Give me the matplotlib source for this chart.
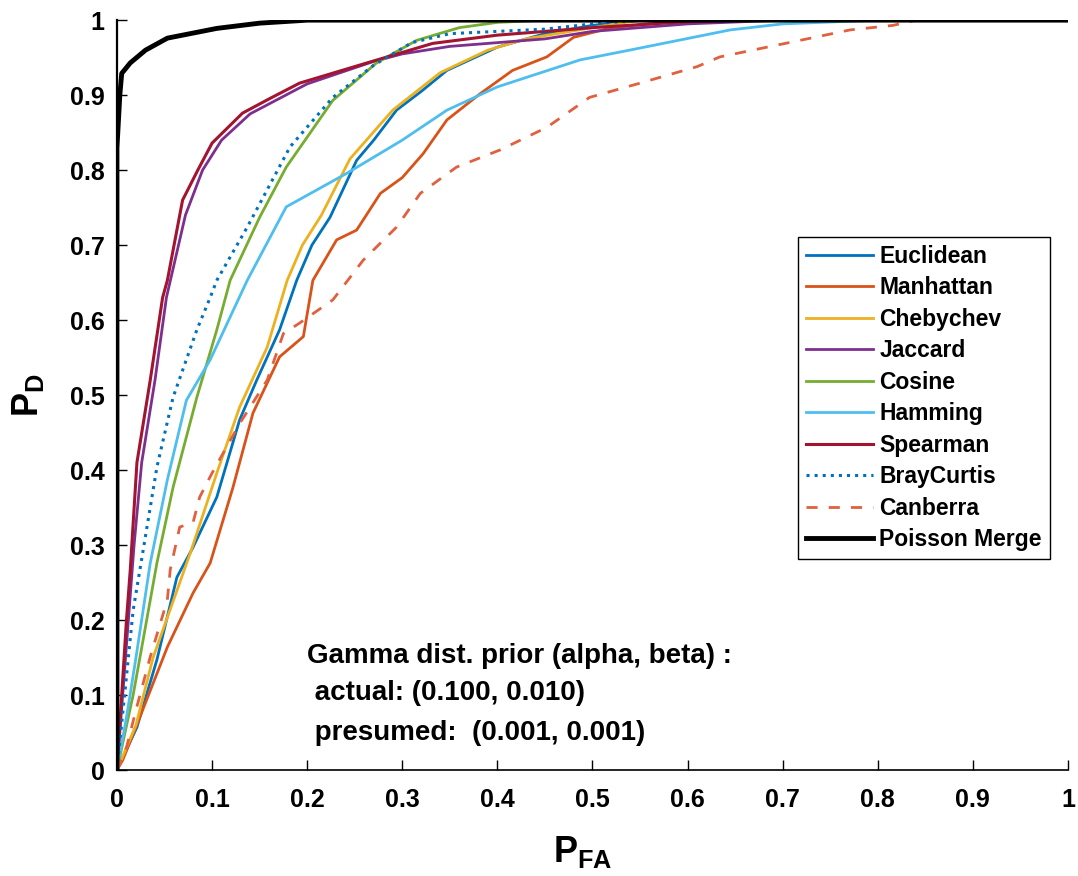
import matplotlib
matplotlib.use('Agg')
import matplotlib.pyplot as plt

# fonts: MATLAB-like bold Helvetica
plt.rcParams['font.family'] = ['Liberation Sans', 'DejaVu Sans']
plt.rcParams['font.weight'] = 'bold'
plt.rcParams['mathtext.fontset'] = 'custom'
plt.rcParams['mathtext.bf'] = 'Liberation Sans:bold'
plt.rcParams['mathtext.rm'] = 'Liberation Sans:bold'

# ROC curves (P_FA, P_D)
euclid_x = [0, 0.021, 0.042, 0.063, 0.080, 0.105, 0.129, 0.147, 0.171, 0.189, 0.205, 0.224, 0.252, 0.27, 0.294, 0.32, 0.347, 0.40, 0.45, 0.50, 0.55, 1]
euclid_y = [0, 0.057, 0.147, 0.257, 0.297, 0.364, 0.467, 0.52, 0.587, 0.653, 0.70, 0.737, 0.813, 0.84, 0.88, 0.905, 0.933, 0.964, 0.982, 0.993, 1.0, 1]

manh_x = [0, 0.006, 0.027, 0.053, 0.080, 0.098, 0.122, 0.143, 0.171, 0.196, 0.206, 0.231, 0.252, 0.277, 0.30, 0.322, 0.347, 0.382, 0.416, 0.452, 0.48, 0.52, 0.60, 1]
manh_y = [0, 0.013, 0.08, 0.164, 0.236, 0.276, 0.377, 0.476, 0.551, 0.578, 0.653, 0.707, 0.72, 0.769, 0.79, 0.822, 0.867, 0.902, 0.933, 0.951, 0.977, 0.99, 1.0, 1]

cheb_x = [0, 0.02, 0.038, 0.077, 0.105, 0.129, 0.158, 0.179, 0.195, 0.215, 0.245, 0.29, 0.34, 0.39, 0.43, 0.50, 0.55, 1]
cheb_y = [0, 0.06, 0.15, 0.289, 0.396, 0.484, 0.564, 0.653, 0.70, 0.74, 0.815, 0.88, 0.93, 0.96, 0.975, 0.99, 1.0, 1]

jacc_x = [0, 0.006, 0.012, 0.018, 0.026, 0.04, 0.052, 0.072, 0.09, 0.11, 0.14, 0.20, 0.27, 0.30, 0.35, 0.45, 0.50, 0.60, 0.70, 1]
jacc_y = [0, 0.10, 0.20, 0.30, 0.41, 0.52, 0.63, 0.74, 0.80, 0.84, 0.875, 0.915, 0.945, 0.955, 0.965, 0.975, 0.985, 0.995, 1.0, 1]

cos_x = [0, 0.017, 0.027, 0.042, 0.059, 0.084, 0.105, 0.119, 0.15, 0.178, 0.227, 0.273, 0.315, 0.36, 0.40, 0.45, 1]
cos_y = [0, 0.10, 0.17, 0.276, 0.377, 0.497, 0.587, 0.653, 0.737, 0.804, 0.893, 0.943, 0.973, 0.99, 0.997, 1.0, 1]

hamm_x = [0, 0.01, 0.02, 0.035, 0.053, 0.073, 0.098, 0.137, 0.178, 0.242, 0.30, 0.347, 0.40, 0.487, 0.539, 0.645, 0.70, 0.80, 1]
hamm_y = [0, 0.07, 0.15, 0.276, 0.387, 0.493, 0.547, 0.653, 0.751, 0.796, 0.84, 0.88, 0.911, 0.947, 0.96, 0.987, 0.995, 1.0, 1]

spear_x = [0, 0.005, 0.01, 0.014, 0.021, 0.035, 0.048, 0.053, 0.069, 0.085, 0.10, 0.132, 0.16, 0.192, 0.263, 0.332, 0.40, 0.50, 0.60, 0.65, 1]
spear_y = [0, 0.10, 0.20, 0.267, 0.41, 0.52, 0.63, 0.653, 0.76, 0.80, 0.836, 0.876, 0.895, 0.916, 0.943, 0.969, 0.98, 0.99, 0.998, 1.0, 1]

bray_x = [0, 0.008, 0.017, 0.027, 0.042, 0.059, 0.084, 0.098, 0.105, 0.137, 0.182, 0.227, 0.27, 0.31, 0.35, 0.45, 0.50, 0.55, 1]
bray_y = [0, 0.10, 0.213, 0.289, 0.404, 0.497, 0.587, 0.63, 0.653, 0.724, 0.831, 0.897, 0.94, 0.97, 0.982, 0.988, 0.995, 1.0, 1]

canb_x = [0, 0.01, 0.02, 0.035, 0.053, 0.056, 0.066, 0.080, 0.087, 0.10, 0.129, 0.158, 0.175, 0.192, 0.227, 0.259, 0.294, 0.319, 0.357, 0.403, 0.452, 0.497, 0.55, 0.61, 0.634, 0.718, 0.771, 0.816, 0.84, 1]
canb_y = [0, 0.03, 0.08, 0.151, 0.227, 0.267, 0.324, 0.33, 0.364, 0.396, 0.462, 0.52, 0.582, 0.596, 0.627, 0.68, 0.724, 0.769, 0.804, 0.827, 0.857, 0.897, 0.916, 0.938, 0.951, 0.973, 0.987, 0.993, 1.0, 1]

poiss_x = [0, 0, 0.003, 0.005, 0.014, 0.03, 0.053, 0.105, 0.15, 0.20, 1]
poiss_y = [0, 0.83, 0.90, 0.929, 0.943, 0.96, 0.976, 0.989, 0.996, 1.0, 1]

fig = plt.figure(figsize=(10.78, 8.76), dpi=100)
ax = fig.add_axes([0.1085, 0.121, 0.8822, 0.856])

ax.plot(euclid_x, euclid_y, color='#0072BD', lw=2, label='Euclidean')
ax.plot(manh_x, manh_y, color='#D95319', lw=2, label='Manhattan')
ax.plot(cheb_x, cheb_y, color='#EDB120', lw=2, label='Chebychev')
ax.plot(jacc_x, jacc_y, color='#7E2F8E', lw=2, label='Jaccard')
ax.plot(cos_x, cos_y, color='#77AC30', lw=2, label='Cosine')
ax.plot(hamm_x, hamm_y, color='#4DBEEE', lw=2, label='Hamming')
ax.plot(spear_x, spear_y, color='#A2142F', lw=2.2, label='Spearman')
ax.plot(bray_x, bray_y, color='#0072BD', lw=2.2, ls=':', label='BrayCurtis')
ax.plot(canb_x, canb_y, color='#E0603F', lw=2, ls=(0, (4, 4)), label='Canberra')
ax.plot(poiss_x, poiss_y, color='black', lw=3.5, label='Poisson Merge')

ax.set_xlim(0, 1)
ax.set_ylim(0, 1)
ax.set_xticks([0, 0.1, 0.2, 0.3, 0.4, 0.5, 0.6, 0.7, 0.8, 0.9, 1])
ax.set_xticklabels(['0', '0.1', '0.2', '0.3', '0.4', '0.5', '0.6', '0.7', '0.8', '0.9', '1'])
ax.set_yticks([0, 0.1, 0.2, 0.3, 0.4, 0.5, 0.6, 0.7, 0.8, 0.9, 1])
ax.set_yticklabels(['0', '0.1', '0.2', '0.3', '0.4', '0.5', '0.6', '0.7', '0.8', '0.9', '1'])
ax.spines['top'].set_visible(False)
ax.spines['right'].set_visible(False)
ax.spines['left'].set_linewidth(1.6)
ax.spines['bottom'].set_linewidth(1.2)
ax.tick_params(axis='both', direction='in', length=7, width=1, labelsize=18)
ax.tick_params(axis='x', pad=13)
ax.tick_params(axis='y', pad=9)

ax.set_xlabel(r'$\mathbf{P}_{\mathbf{FA}}$', fontsize=26)
ax.set_ylabel(r'$\mathbf{P}_{\mathbf{D}}$', fontsize=26)
ax.xaxis.set_label_coords(0.49, -0.085)
ax.yaxis.set_label_coords(-0.075, 0.5)

leg = ax.legend(loc='upper right', bbox_to_anchor=(0.981, 0.711), fontsize=16.5,
                handlelength=2.9, labelspacing=0.37, handletextpad=0.3,
                borderpad=0.35, borderaxespad=0, fancybox=False, framealpha=1,
                edgecolor='black')
leg.get_frame().set_linewidth(1.0)

ax.text(0.2, 0.143, 'Gamma dist. prior (alpha, beta) :', fontsize=20, va='baseline')
ax.text(0.2, 0.093, ' actual: (0.100, 0.010)', fontsize=20, va='baseline')
ax.text(0.2, 0.04, ' presumed:  (0.001, 0.001)', fontsize=20, va='baseline')

fig.savefig('out.png', dpi=100)
